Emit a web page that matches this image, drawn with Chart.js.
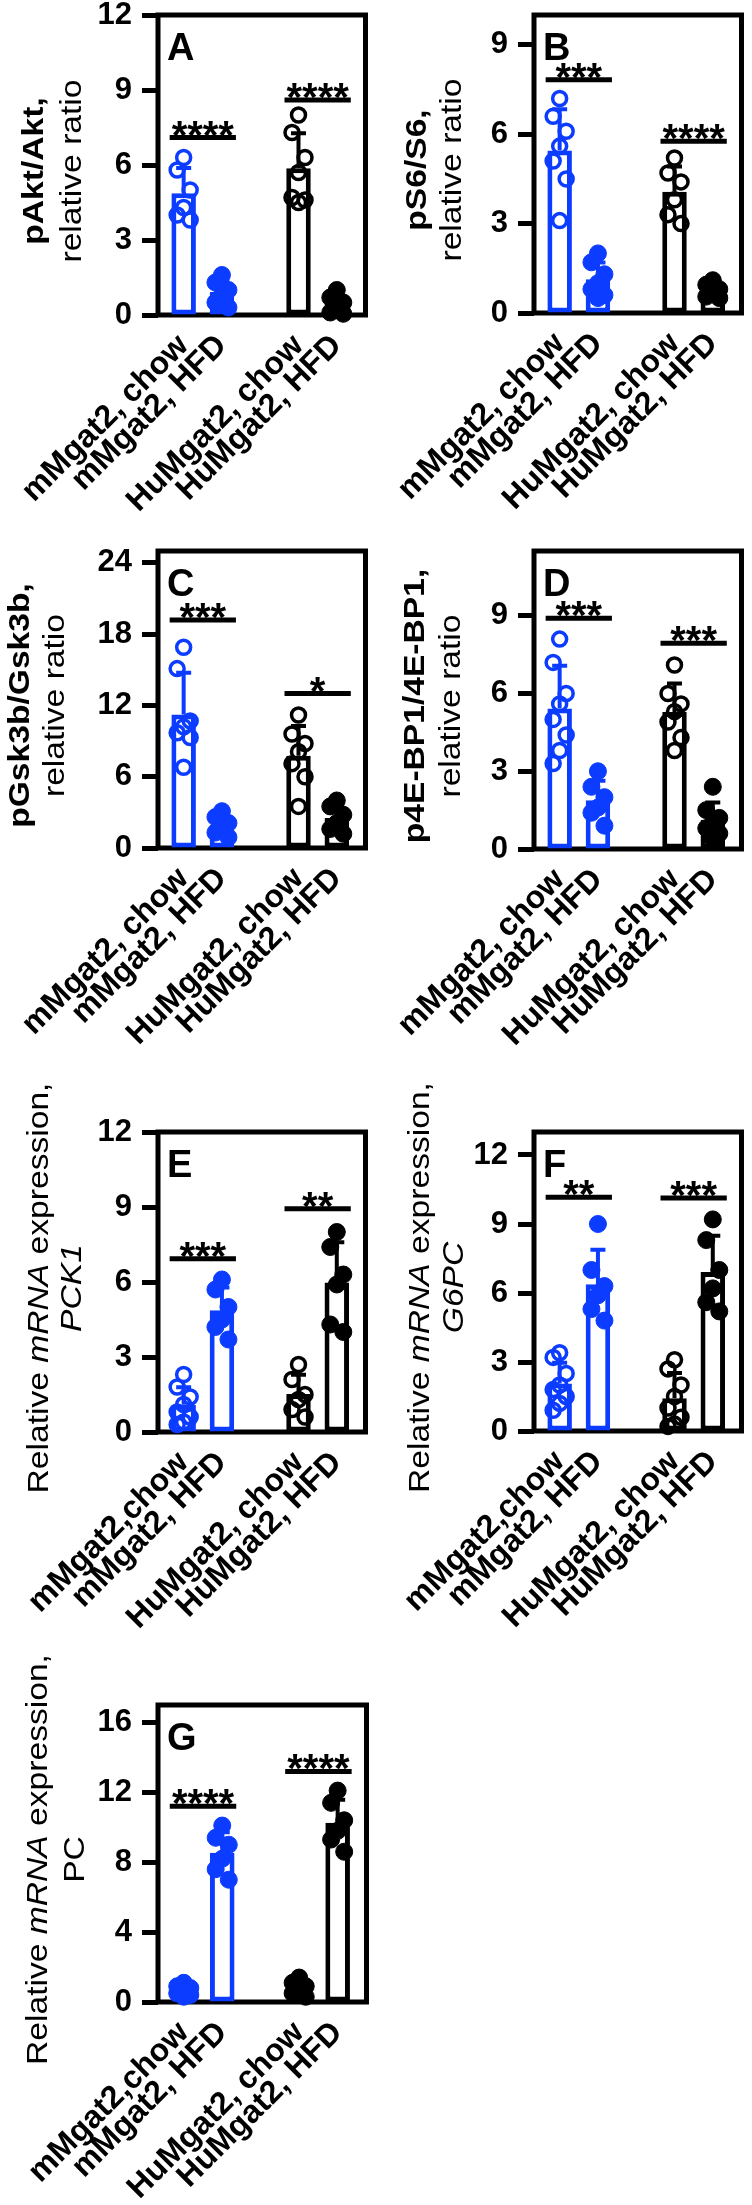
<!DOCTYPE html>
<html>
<head>
<meta charset="utf-8">
<script src="https://cdn.jsdelivr.net/npm/chart.js@4.4.0/dist/chart.umd.min.js"></script>
<style>
  html, body { margin: 0; padding: 0; background: #fff; }
  #fig { position: relative; width: 752px; height: 2205px; overflow: hidden; }
  #fig canvas { position: absolute; }
</style>
</head>
<body>
<div id="fig"></div>
<script>
// groups on the x axis
const groups = ['mMgat2, chow', 'mMgat2, HFD', 'HuMgat2, chow', 'HuMgat2, HFD'];
const groupsNoSpace = ['mMgat2,chow', 'mMgat2, HFD', 'HuMgat2, chow', 'HuMgat2, HFD'];

// A  pAkt/Akt
const aMChow = [6.3, 5.8, 5.0, 4.3, 4.0, 3.8];
const aMHfd = [1.6, 1.3, 1.0, 0.8, 0.5, 0.3];
const aHuChow = [8.0, 7.3, 6.3, 5.7, 4.7, 4.6, 4.5];
const aHuHfd = [1.0, 0.7, 0.5, 0.3, 0.1, 0.05];
const aTicks = [0, 3, 6, 9, 12];
const aSigY = [7.1, 8.6];
const aStars = ['****', '****'];

// B  pS6/S6
const bMChow = [7.2, 6.6, 6.1, 5.6, 5.1, 4.5, 3.1];
const bMHfd = [2.0, 1.7, 1.3, 1.0, 0.8, 0.6, 0.5];
const bHuChow = [5.2, 4.7, 4.4, 3.8, 3.3, 3.0];
const bHuHfd = [1.1, 0.95, 0.8, 0.7, 0.55, 0.5];
const bTicks = [0, 3, 6, 9];
const bSigY = [7.83, 5.76];
const bStars = ['***', '****'];

// C  pGsk3b/Gsk3b
const cMChow = [16.9, 15.1, 10.7, 10.2, 9.7, 9.3, 6.8];
const cMHfd = [3.1, 2.6, 2.1, 1.7, 1.3, 0.9];
const cHuChow = [11.2, 9.6, 8.8, 8.1, 7.1, 6.0, 3.5];
const cHuHfd = [4.0, 3.5, 2.8, 2.1, 1.6, 1.2];
const cTicks = [0, 6, 12, 18, 24];
const cSigY = [19.2, 13.0];
const cStars = ['***', '*'];

// D  p4E-BP1/4E-BP1
const dMChow = [8.1, 7.2, 6.0, 5.6, 5.0, 4.4, 3.8, 3.3];
const dMHfd = [3.0, 2.4, 2.0, 1.6, 1.4, 0.9];
const dHuChow = [7.1, 6.0, 5.6, 5.3, 4.9, 4.3, 3.8];
const dHuHfd = [2.4, 1.5, 1.2, 1.0, 0.8, 0.6, 0.4];
const dTicks = [0, 3, 6, 9];
const dSigY = [8.9, 7.94];
const dStars = ['***', '***'];

// E  PCK1 mRNA
const eMChow = [2.3, 1.8, 1.4, 1.1, 0.8, 0.6, 0.4, 0.3];
const eMHfd = [6.1, 5.7, 5.0, 4.5, 4.2, 3.7];
const eHuChow = [2.7, 2.1, 1.5, 1.3, 0.9, 0.6];
const eHuHfd = [8.0, 7.4, 6.3, 5.9, 4.3, 4.0];
const eTicks = [0, 3, 6, 9, 12];
const eSigY = [6.93, 8.93];
const eStars = ['***', '**'];

// F  G6PC mRNA
const fMChow = [3.4, 3.2, 2.5, 2.0, 1.8, 1.5, 1.2, 0.9];
const fMHfd = [9.0, 7.0, 6.3, 5.9, 5.3, 4.8];
const fHuChow = [3.1, 2.7, 2.0, 1.5, 1.0, 0.6, 0.3, 0.2];
const fHuHfd = [9.2, 8.3, 7.0, 6.2, 5.6, 5.2];
const fTicks = [0, 3, 6, 9, 12];
const fSigY = [10.16, 10.13];
const fStars = ['**', '***'];

// G  PC mRNA
const gMChow = [1.1, 0.9, 0.8, 0.6, 0.5, 0.4, 0.3];
const gMHfd = [10.1, 9.4, 9.0, 8.2, 7.6, 7.0];
const gHuChow = [1.4, 1.1, 0.9, 0.7, 0.5, 0.3];
const gHuHfd = [12.1, 11.4, 10.4, 9.8, 9.3, 8.6];
const gTicks = [0, 4, 8, 12, 16];
const gSigY = [11.2, 13.2];
const gStars = ['****', '****'];

const FONT = '"Liberation Sans", Arial, Helvetica, sans-serif';
const BLUE = '#0b3cff';
const colors = [BLUE, BLUE, '#000', '#000'];
const xPos = groups.map((g, i) => (i < 2 ? i + 1 : i + 2)); // gap between the two genotypes

const panels = [
  { letter: 'A', col: 0, top: 15, bottom: 315, max: 12, vals: [aMChow, aMHfd, aHuChow, aHuHfd], ticks: aTicks, sigY: aSigY, stars: aStars, labels: groups,
    title: [[['pAkt/Akt,', 'bold']], [['relative ratio', '']]], tx: [43, 81] },
  { letter: 'B', col: 1, top: 15, bottom: 313, max: 10, vals: [bMChow, bMHfd, bHuChow, bHuHfd], ticks: bTicks, sigY: bSigY, stars: bStars, labels: groups,
    title: [[['pS6/S6,', 'bold']], [['relative ratio', '']]], tx: [50, 85] },
  { letter: 'C', col: 0, top: 551, bottom: 848, max: 25, vals: [cMChow, cMHfd, cHuChow, cHuHfd], ticks: cTicks, sigY: cSigY, stars: cStars, labels: groups,
    title: [[['pGsk3b/Gsk3b,', 'bold']], [['relative ratio', '']]], tx: [29, 64] },
  { letter: 'D', col: 1, top: 551, bottom: 849, max: 11.5, vals: [dMChow, dMHfd, dHuChow, dHuHfd], ticks: dTicks, sigY: dSigY, stars: dStars, labels: groups,
    title: [[['p4E-BP1/4E-BP1,', 'bold']], [['relative ratio', '']]], tx: [48, 84] },
  { letter: 'E', col: 0, top: 1132, bottom: 1432, max: 12, vals: [eMChow, eMHfd, eHuChow, eHuHfd], ticks: eTicks, sigY: eSigY, stars: eStars, labels: groupsNoSpace,
    title: [[['Relative ', ''], ['mRNA', 'italic'], [' expression,', '']], [['PCK1', 'italic']]], tx: [48, 81] },
  { letter: 'F', col: 1, top: 1132, bottom: 1431, max: 13, vals: [fMChow, fMHfd, fHuChow, fHuHfd], ticks: fTicks, sigY: fSigY, stars: fStars, labels: groupsNoSpace,
    title: [[['Relative ', ''], ['mRNA', 'italic'], [' expression,', '']], [['G6PC', 'italic']]], tx: [53, 87] },
  { letter: 'G', col: 0, top: 1705, bottom: 2002, max: 17, vals: [gMChow, gMHfd, gHuChow, gHuHfd], ticks: gTicks, sigY: gSigY, stars: gStars, labels: groupsNoSpace,
    title: [[['Relative ', ''], ['mRNA', 'italic'], [' expression,', '']], [['PC', '']]], tx: [47, 84], filledChow: true }
];

const W = 376, LEFT = 158, RIGHT = 372.5, TOPPAD = 60, XH = 200;

function stats(v) {
  const m = v.reduce((s, a) => s + a, 0) / v.length;
  const sd = Math.sqrt(v.reduce((s, a) => s + (a - m) * (a - m), 0) / (v.length - 1));
  return { mean: m, sd: sd };
}

const jit = [0, -0.17, 0.17];

panels.forEach(p => {
  const cv = document.createElement('canvas');
  const h = (p.bottom - p.top) + TOPPAD + XH;
  cv.width = W; cv.height = h;
  cv.style.left = (p.col * W) + 'px';
  cv.style.top = (p.top - TOPPAD) + 'px';
  document.getElementById('fig').appendChild(cv);

  const st = p.vals.map(stats);

  const datasets = [{
    type: 'bar',
    data: st.map((s, i) => ({ x: xPos[i], y: s.mean })),
    backgroundColor: '#fff',
    borderColor: colors,
    borderWidth: 5,
    borderSkipped: false,
    barPercentage: 0.64,
    categoryPercentage: 1,
    order: 2
  }];
  p.vals.forEach((v, i) => {
    const hollow = i % 2 === 0 && !p.filledChow;
    datasets.push({
      type: 'scatter',
      data: v.map((val, j) => ({ x: xPos[i] + jit[j % 3], y: val })),
      pointRadius: hollow ? 7 : 8.5,
      pointBorderWidth: hollow ? 3.5 : 1,
      pointBackgroundColor: hollow ? 'rgba(0,0,0,0)' : colors[i],
      pointBorderColor: colors[i],
      clip: false,
      order: 1
    });
  });

  const panelDeco = {
    id: 'panelDeco',
    beforeDatasetsDraw(chart) {
      const { ctx, chartArea: a } = chart;
      ctx.save();
      ctx.strokeStyle = '#000';
      ctx.lineWidth = 5;
      ctx.strokeRect(a.left, a.top, a.right - a.left, a.bottom - a.top);
      ctx.restore();
    },
    afterDatasetDraw(chart, args) {
      if (args.index !== 0) return;
      const { ctx, scales: { x, y } } = chart;
      ctx.save();
      ctx.lineWidth = 4;
      st.forEach((s, i) => {
        const px = x.getPixelForValue(xPos[i]);
        const y0 = y.getPixelForValue(s.mean);
        const y1 = y.getPixelForValue(s.mean + s.sd);
        ctx.strokeStyle = colors[i];
        ctx.beginPath();
        ctx.moveTo(px, y0); ctx.lineTo(px, y1);
        ctx.moveTo(px - 7.5, y1); ctx.lineTo(px + 7.5, y1);
        ctx.stroke();
      });
      ctx.restore();
    },
    afterDraw(chart) {
      const { ctx, chartArea: a, scales: { x, y } } = chart;
      ctx.save();
      ctx.fillStyle = '#000';
      ctx.strokeStyle = '#000';
      // significance bars
      p.sigY.forEach((sy, k) => {
        const x1 = x.getPixelForValue(xPos[2 * k]) - 14;
        const x2 = x.getPixelForValue(xPos[2 * k + 1]) + 14;
        const yy = y.getPixelForValue(sy);
        ctx.lineWidth = 5;
        ctx.beginPath(); ctx.moveTo(x1, yy); ctx.lineTo(x2, yy); ctx.stroke();
        ctx.font = 'bold 40px ' + FONT;
        ctx.textAlign = 'center';
        ctx.textBaseline = 'alphabetic';
        ctx.fillText(p.stars[k], (x1 + x2) / 2, yy + 11);
      });
      // panel letter
      ctx.font = 'bold 38px ' + FONT;
      ctx.textAlign = 'left';
      ctx.fillText(p.letter, a.left + 9, a.top + 45);
      // y title, mixed styles
      const cy = (a.top + a.bottom) / 2 + 6;
      p.title.forEach((line, li) => {
        ctx.save();
        ctx.translate(p.tx[li], cy);
        ctx.rotate(-Math.PI / 2);
        ctx.scale(1.12, 1);
        const fonts = line.map(s => s[1] + ' 30px ' + FONT);
        let total = 0;
        const ws = line.map((s, k) => { ctx.font = fonts[k]; const w = ctx.measureText(s[0]).width; total += w; return w; });
        let xx = -total / 2;
        line.forEach((s, k) => { ctx.font = fonts[k]; ctx.fillText(s[0], xx, 0); xx += ws[k]; });
        ctx.restore();
      });
      ctx.restore();
    }
  };

  new Chart(cv, {
    type: 'bar',
    data: { datasets: datasets },
    options: {
      responsive: false,
      animation: false,
      layout: { padding: { left: 0, right: W - RIGHT, top: TOPPAD, bottom: 0 } },
      plugins: { legend: { display: false }, tooltip: { enabled: false } },
      scales: {
        x: {
          type: 'linear',
          offset: false,
          min: 0.33,
          max: 5.75,
          afterBuildTicks: s => { s.ticks = xPos.map(v => ({ value: v })); },
          afterFit: s => { s.height = XH; s.paddingLeft = 0; s.paddingRight = 0; },
          border: { display: false },
          grid: { display: false, drawTicks: false, offset: false },
          ticks: {
            autoSkip: false,
            minRotation: 45,
            maxRotation: 45,
            padding: 12,
            color: '#000',
            font: { family: FONT, size: 32, weight: 'bold' },
            callback: (v, i) => p.labels[i]
          }
        },
        y: {
          min: 0,
          max: p.max,
          afterBuildTicks: s => { s.ticks = p.ticks.map(v => ({ value: v })); },
          afterFit: s => { s.width = LEFT; s.paddingTop = 0; s.paddingBottom = 0; },
          border: { display: false },
          grid: { drawOnChartArea: false, drawTicks: true, tickLength: 16, tickWidth: 5, tickColor: '#000' },
          ticks: { color: '#000', padding: 10, font: { family: FONT, size: 31, weight: 'bold' } }
        }
      }
    },
    plugins: [panelDeco]
  });
});
</script>
</body>
</html>
